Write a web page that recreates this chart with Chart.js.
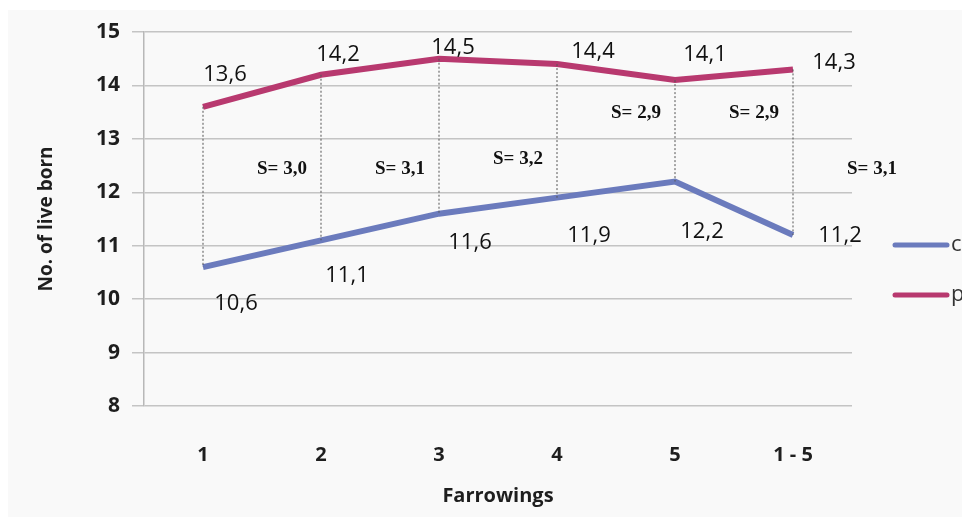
<!DOCTYPE html>
<html>
<head>
<meta charset="utf-8">
<script src="https://cdn.jsdelivr.net/npm/chart.js@4.4.1/dist/chart.umd.min.js"></script>
<style>
  html, body { margin: 0; padding: 0; background: #ffffff; }
  #wrap { width: 962px; height: 517px; }
</style>
</head>
<body>
<div id="wrap"><canvas id="liveBornChart" width="962" height="517"></canvas></div>
<script>
// Dados
const farrowings = ['1', '2', '3', '4', '5', '1 - 5'];
const controlData = [10.6, 11.1, 11.6, 11.9, 12.2, 11.2];
const probioticData = [13.6, 14.2, 14.5, 14.4, 14.1, 14.3];
const sdValues = ['3,0', '3,1', '3,2', '2,9', '2,9', '3,1'];
const yTicks = [8, 9, 10, 11, 12, 13, 14, 15];

const blue = '#6b7bbd';
const red = '#b8396f';

// fundo cinza claro com margem branca
const backgroundPlugin = {
    id: 'bg',
    beforeDraw(chart) {
        const { ctx, width, height } = chart;
        ctx.save();
        ctx.fillStyle = '#ffffff';
        ctx.fillRect(0, 0, width, height);
        ctx.fillStyle = '#f9f9f9';
        ctx.fillRect(8, 10, width - 8, height - 10);
        ctx.restore();
    }
};

// linhas pontilhadas, rótulos e legenda
const annotationsPlugin = {
    id: 'annotations',
    afterDatasetsDraw(chart) {
        const { ctx, scales: { x, y } } = chart;
        ctx.save();

        // linhas verticais entre as duas séries
        ctx.strokeStyle = '#555555';
        ctx.lineWidth = 1;
        ctx.setLineDash([2, 2]);
        farrowings.forEach((lab, i) => {
            const px = x.getPixelForValue(i);
            ctx.beginPath();
            ctx.moveTo(px, y.getPixelForValue(probioticData[i]));
            ctx.lineTo(px, y.getPixelForValue(controlData[i]));
            ctx.stroke();
        });
        ctx.setLineDash([]);

        // rótulos dos valores
        const redOff = [[22, -32], [17, -20], [14, -11], [36, -12], [30, -25], [41, -7]];
        const blueOff = [[33, 37], [26, 35], [31, 29], [32, 38], [27, 50], [47, 1]];
        ctx.font = '22px "Open Sans"';
        ctx.fillStyle = '#111111';
        ctx.textAlign = 'center';
        ctx.textBaseline = 'middle';
        probioticData.forEach((v, i) => {
            const px = x.getPixelForValue(i), py = y.getPixelForValue(v);
            ctx.fillText(String(v).replace('.', ','), px + redOff[i][0], py + redOff[i][1]);
        });
        controlData.forEach((v, i) => {
            const px = x.getPixelForValue(i), py = y.getPixelForValue(v);
            ctx.fillText(String(v).replace('.', ','), px + blueOff[i][0], py + blueOff[i][1]);
        });

        // desvio padrão
        const sdY = [12.44, 12.44, 12.62, 13.48, 13.48, 12.44];
        ctx.font = 'bold 19px "Liberation Serif"';
        sdValues.forEach((s, i) => {
            ctx.fillText('S= ' + s, x.getPixelForValue(i) + 79, y.getPixelForValue(sdY[i]));
        });

        // legenda (cortada na borda direita)
        const items = chart.data.datasets;
        ctx.font = '22px "Open Sans"';
        ctx.textAlign = 'left';
        items.forEach((ds, i) => {
            const ly = 245 + i * 50;
            ctx.strokeStyle = ds.borderColor;
            ctx.lineWidth = 5;
            ctx.lineCap = 'round';
            ctx.beginPath();
            ctx.moveTo(895, ly);
            ctx.lineTo(947, ly);
            ctx.stroke();
            ctx.fillStyle = '#333333';
            ctx.fillText(ds.label, 951, ly);
        });
        ctx.restore();
    }
};

new Chart(document.getElementById('liveBornChart').getContext('2d'), {
    type: 'line',
    data: {
        labels: farrowings,
        datasets: [{
            label: 'control',
            data: controlData,
            borderColor: blue,
            backgroundColor: blue,
            borderWidth: 6,
            pointRadius: 0,
            tension: 0
        }, {
            label: 'probiotic',
            data: probioticData,
            borderColor: red,
            backgroundColor: red,
            borderWidth: 6,
            pointRadius: 0,
            tension: 0
        }]
    },
    options: {
        responsive: false,
        animation: false,
        devicePixelRatio: 1,
        layout: { padding: { left: 8, right: 110, top: 32, bottom: 8 } },
        scales: {
            x: {
                offset: true,
                grid: { display: false },
                border: { display: false },
                ticks: { padding: 29, color: '#1e1e1e', font: { family: 'Open Sans', size: 20, weight: 'bold' } },
                title: {
                    display: true, text: 'Farrowings', color: '#1e1e1e',
                    font: { family: 'Open Sans', size: 20, weight: 'bold' },
                    padding: { top: 0, bottom: 1 }
                },
                afterFit(scale) { scale.height = 103; }
            },
            y: {
                min: 8,
                max: 15,
                afterBuildTicks(scale) { scale.ticks = yTicks.map(v => ({ value: v })); },
                grid: { color: '#c4c4c4', lineWidth: 1.5, tickLength: 12 },
                border: { color: '#b8b8b8', width: 1.5 },
                ticks: { padding: 12, color: '#1e1e1e', font: { family: 'Open Sans', size: 21, weight: 'bold' } },
                title: {
                    display: true, text: 'No. of live born', color: '#1e1e1e',
                    font: { family: 'Open Sans', size: 19, weight: 'bold' },
                    padding: { top: 27, bottom: 0 }
                },
                afterFit(scale) { scale.width = 136; }
            }
        },
        plugins: {
            legend: { display: false },
            tooltip: { enabled: false }
        }
    },
    plugins: [backgroundPlugin, annotationsPlugin]
});
</script>
</body>
</html>
